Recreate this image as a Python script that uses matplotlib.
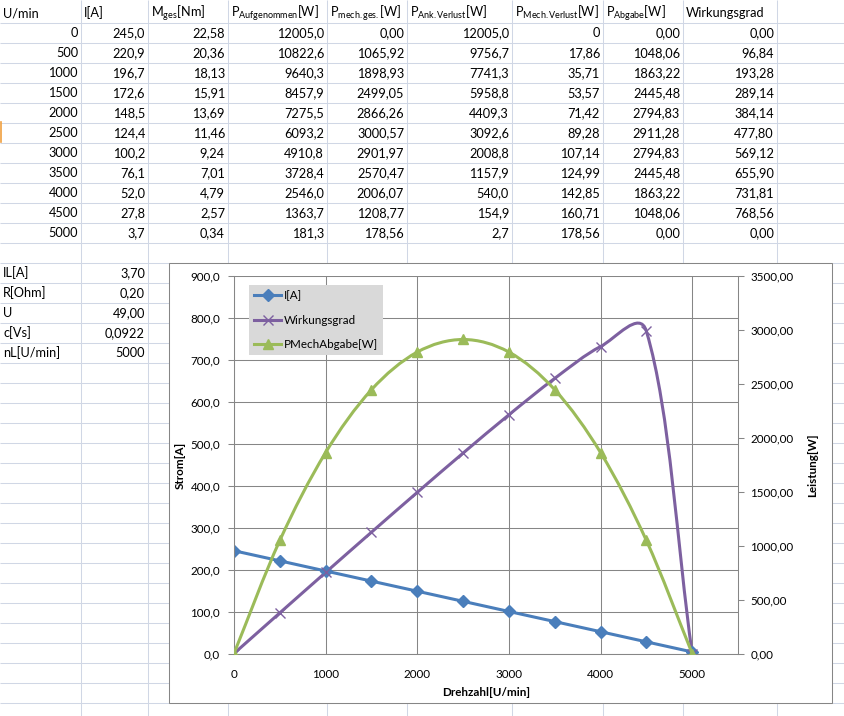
import numpy as np
import matplotlib
matplotlib.use("Agg")
import matplotlib.pyplot as plt
from matplotlib.lines import Line2D
from matplotlib.patches import Rectangle, PathPatch
from matplotlib.path import Path

plt.rcParams['font.family'] = ['Lato', 'DejaVu Sans']
plt.rcParams['mathtext.fontset'] = 'custom'
plt.rcParams['mathtext.rm'] = 'Lato'
plt.rcParams['mathtext.it'] = 'Lato:italic'
plt.rcParams['mathtext.bf'] = 'Lato:bold'

# Tabellenwerte
drehzahl = [0, 500, 1000, 1500, 2000, 2500, 3000, 3500, 4000, 4500, 5000]
strom = [245.0, 220.9, 196.7, 172.6, 148.5, 124.4, 100.2, 76.1, 52.0, 27.8, 3.7]
moment = [22.58, 20.36, 18.13, 15.91, 13.69, 11.46, 9.24, 7.01, 4.79, 2.57, 0.34]
p_auf = [12005.0, 10822.6, 9640.3, 8457.9, 7275.5, 6093.2, 4910.8, 3728.4, 2546.0, 1363.7, 181.3]
p_mech_ges = [0.00, 1065.92, 1898.93, 2499.05, 2866.26, 3000.57, 2901.97, 2570.47, 2006.07, 1208.77, 178.56]
p_ank_verlust = [12005.0, 9756.7, 7741.3, 5958.8, 4409.3, 3092.6, 2008.8, 1157.9, 540.0, 154.9, 2.7]
p_mech_verlust = [0, 17.86, 35.71, 53.57, 71.42, 89.28, 107.14, 124.99, 142.85, 160.71, 178.56]
p_abgabe = [0.00, 1048.06, 1863.22, 2445.48, 2794.83, 2911.28, 2794.83, 2445.48, 1863.22, 1048.06, 0.00]
wirkungsgrad = [0.00, 96.84, 193.28, 289.14, 384.14, 477.80, 569.12, 655.90, 731.81, 768.56, 0.00]

headers = ['U/min', 'I[A]', r'M$_{\mathrm{ges}}$[Nm]', r'P$_{\mathrm{Aufgenommen}}$[W]',
           r'P$_{\mathrm{mech.ges.}}$[W]', r'P$_{\mathrm{Ank.Verlust}}$[W]',
           r'P$_{\mathrm{Mech.Verlust}}$[W]', r'P$_{\mathrm{Abgabe}}$[W]', 'Wirkungsgrad']

param_names = ['IL[A]', 'R[Ohm]', 'U', 'c[Vs]', 'nL[U/min]']
param_values = ['3,70', '0,20', '49,00', '0,0922', '5000']

# Spaltengrenzen der Tabelle (Pixel)
col_edges = [0, 81, 148, 228, 327, 407, 512, 603, 683, 777]

sheet_grid = '#d0d7e5'
chart_grey = '#868686'
c_blue = '#4a7ebb'
c_purple = '#7d60a0'
c_green = '#9bbb59'


def fmt(v, d):
    return f"{v:.{d}f}".replace('.', ',')


def excel_smooth(ax, xs, ys, sx, sy, **kw):
    # Bezier-Glaettung wie in Excel, Kurve wird von matplotlib gezeichnet
    pts = np.column_stack([xs, ys]).astype(float)
    sc = np.array([sx, sy])
    n = len(pts)
    verts = [pts[0]]
    codes = [Path.MOVETO]
    for i in range(n - 1):
        p0 = pts[max(i - 1, 0)]
        p1 = pts[i]
        p2 = pts[i + 1]
        p3 = pts[min(i + 2, n - 1)]
        d01 = np.hypot(*((p1 - p0) * sc))
        d12 = np.hypot(*((p2 - p1) * sc))
        d23 = np.hypot(*((p3 - p2) * sc))
        f1 = d12 / (d01 + d12) / 3
        f2 = d12 / (d12 + d23) / 3
        verts += [p1 + f1 * (p2 - p0), p2 - f2 * (p3 - p1), p2]
        codes += [Path.CURVE4] * 3
    ax.add_patch(PathPatch(Path(verts, codes), fill=False, **kw))


fig = plt.figure(figsize=(8.44, 7.16), dpi=100)

# --- Tabellenblatt ---
bg = fig.add_axes([0, 0, 1, 1])
bg.set_xlim(0, 844)
bg.set_ylim(716, 0)
bg.axis('off')

bg.hlines(np.arange(22.5, 716, 20), 0, 844, color=sheet_grid, lw=0.75)
bg.vlines(col_edges[1:], 0, 716, color=sheet_grid, lw=0.75)
bg.plot([0.6, 0.6], [122, 142], color='#f0a040', lw=1.2)

fs = 9.2
for j, h in enumerate(headers):
    bg.text(col_edges[j] + 3, 17.2, h, fontsize=fs, ha='left', va='baseline')

columns = [(drehzahl, 0), (strom, 1), (moment, 2), (p_auf, 1), (p_mech_ges, 2),
           (p_ank_verlust, 1), (p_mech_verlust, 2), (p_abgabe, 2), (wirkungsgrad, 2)]
for j, (vals, d) in enumerate(columns):
    for i, v in enumerate(vals):
        s = '0' if (j == 6 and v == 0) else fmt(v, d)
        bg.text(col_edges[j + 1] - 3, 37.2 + 20 * i, s, fontsize=fs, ha='right', va='baseline')

for i, (nm, val) in enumerate(zip(param_names, param_values)):
    bg.text(3, 277.2 + 20 * i, nm, fontsize=fs, ha='left', va='baseline')
    bg.text(col_edges[2] - 3, 277.2 + 20 * i, val, fontsize=fs, ha='right', va='baseline')

# Diagrammrahmen
bg.add_patch(Rectangle((168.5, 262.5), 663, 440, fc='white', ec=chart_grey, lw=0.75, zorder=3))
bg.text(180, 465, 'Strom[A]', rotation=90, ha='center', va='center', fontsize=8.4,
        fontweight='bold', zorder=6)
bg.text(813, 465, 'Leistung[W]', rotation=90, ha='center', va='center', fontsize=8.4,
        fontweight='bold', zorder=6)
bg.text(486, 692, 'Drehzahl[U/min]', ha='center', va='center', fontsize=8.4,
        fontweight='bold', zorder=6)

# --- Diagramm ---
x0, x1, y0, y1 = 234, 738, 276, 653.5
ax = fig.add_axes([x0 / 844, (716 - y1) / 716, (x1 - x0) / 844, (y1 - y0) / 716])
ax.set_xlim(0, 5500)
ax.set_ylim(0, 900)
xt = list(range(0, 5001, 1000))
ax.set_xticks(xt)
ax.set_xticklabels([str(v) for v in xt])
yt = list(range(0, 901, 100))
ax.set_yticks(yt)
ax.set_yticklabels([fmt(v, 1) for v in yt])
ax.grid(True, color=chart_grey, lw=0.75)
ax.set_axisbelow(True)
for s in ['top', 'right']:
    ax.spines[s].set_visible(False)
for s in ['left', 'bottom']:
    ax.spines[s].set_color(chart_grey)
    ax.spines[s].set_linewidth(0.75)
ax.tick_params(axis='y', direction='out', length=4, width=0.75, color=chart_grey,
               pad=6, labelsize=8.4)
ax.tick_params(axis='x', length=0, pad=11, labelsize=8.4)

ax2 = ax.twinx()
ax2.set_ylim(0, 3500)
rt = list(range(0, 3501, 500))
ax2.set_yticks(rt)
ax2.set_yticklabels([fmt(v, 2) for v in rt])
for s in ['top', 'left', 'bottom']:
    ax2.spines[s].set_visible(False)
ax2.spines['right'].set_color(chart_grey)
ax2.spines['right'].set_linewidth(0.75)
ax2.tick_params(axis='y', direction='out', length=4, width=0.75, color=chart_grey,
                pad=5, labelsize=8.4)

sx = (x1 - x0) / 5500
k = 0.5
lw = 2.2

ax.plot(drehzahl, strom, color=c_blue, lw=lw, marker='D', ms=6, solid_capstyle='round')
excel_smooth(ax, drehzahl, wirkungsgrad, sx, (y1 - y0) / 900 * k, ec=c_purple, lw=lw,
             capstyle='round', joinstyle='round')
ax.plot(drehzahl, wirkungsgrad, ls='none', color=c_purple, marker='x', ms=7, mew=1)

excel_smooth(ax2, drehzahl, p_abgabe, sx, (y1 - y0) / 3500 * k, ec=c_green, lw=lw,
             capstyle='round', joinstyle='round')
ax2.plot(drehzahl, p_abgabe, ls='none', color=c_green, marker='^', ms=7)

handles = [Line2D([0], [0], color=c_blue, lw=lw, marker='D', ms=6),
           Line2D([0], [0], color=c_purple, lw=lw, marker='x', ms=7, mew=1),
           Line2D([0], [0], color=c_green, lw=lw, marker='^', ms=7)]
ax2.legend(handles, ['I[A]', 'Wirkungsgrad', 'PMechAbgabe[W]'], loc='upper left',
           bbox_to_anchor=(249 / 844, 1 - 285 / 716), bbox_transform=fig.transFigure,
           borderaxespad=0, fancybox=False, facecolor='#d9d9d9', edgecolor='none',
           framealpha=1, fontsize=8.4, handlelength=2.3, handletextpad=0.2,
           labelspacing=1.15, borderpad=0.45)

fig.savefig('out.png', dpi=100)
